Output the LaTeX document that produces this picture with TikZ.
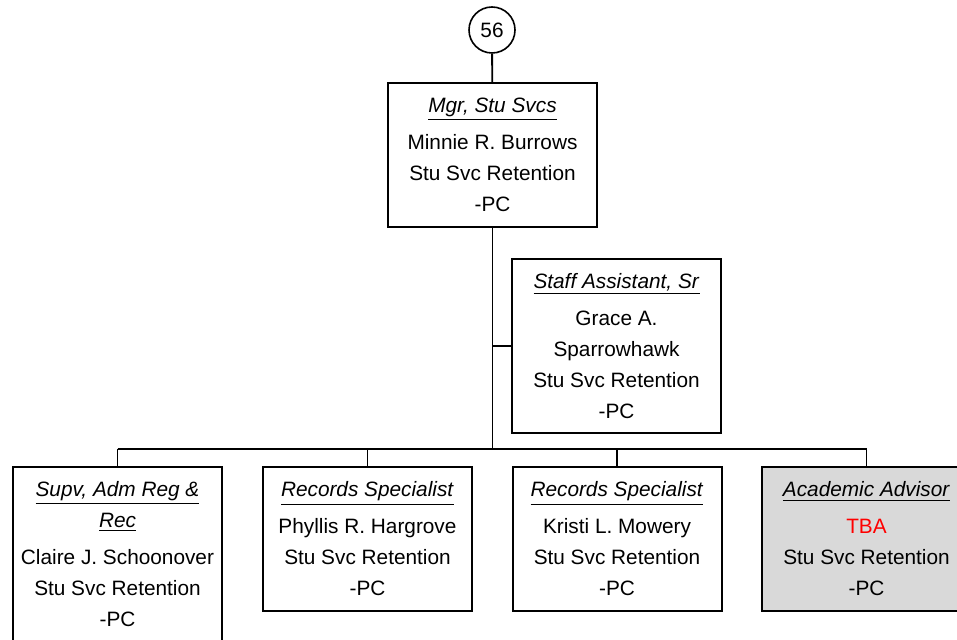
\documentclass[tikz,border=0pt]{standalone}
\usepackage{fontspec}
\setmainfont{Liberation Sans}
\usetikzlibrary{positioning}
\newcommand{\jobtitle}[1]{\underline{\textit{#1}}}

\begin{document}
\begin{tikzpicture}[x=0.5pt,y=-0.5pt,font=\fontsize{10.4}{15.5}\selectfont]
  \tikzstyle{post}=[draw,line width=1pt,align=center,minimum width=104.5pt,inner sep=0pt]
  \tikzstyle{link}=[line width=0.9pt]
  \clip (0,0) rectangle (957,640);
  \node[draw,circle,line width=0.8pt,minimum size=23pt,inner sep=0pt] (ref) at (492,30) {56};
  \node[post,minimum height=72pt] (mgr) at (492.5,155) {\jobtitle{Mgr, Stu Svcs}\\[3pt]Minnie R. Burrows\\Stu Svc Retention\\-PC};
  \node[post,minimum height=87pt] (staff) at (616.5,346) {\jobtitle{Staff Assistant, Sr}\\[3pt]Grace A.\\Sparrowhawk\\Stu Svc Retention\\-PC};
  \coordinate (bus) at (492.5,449);
  \node[post,minimum height=87pt] (supv) at (117.5,554) {\jobtitle{Supv, Adm Reg \&}\\\jobtitle{Rec}\\[3pt]Claire J. Schoonover\\Stu Svc Retention\\-PC};
  \node[post,minimum height=72pt] (rec1) at (367.5,539) {\jobtitle{Records Specialist}\\[3pt]Phyllis R. Hargrove\\Stu Svc Retention\\-PC};
  \node[post,minimum height=72pt] (rec2) at (617,539) {\jobtitle{Records Specialist}\\[3pt]Kristi L. Mowery\\Stu Svc Retention\\-PC};
  \node[post,minimum height=72pt,fill=gray!30] (adv) at (866.5,539) {\jobtitle{Academic Advisor}\\[3pt]\textcolor{red}{TBA}\\Stu Svc Retention\\-PC};
  \draw[link] (ref) -- (mgr);
  \draw[link] (mgr) -- (bus);
  \draw[link] (mgr.south |- staff.west) -- (staff.west);
  \draw[link] (bus -| supv.north) -- (bus -| adv.north);
  \foreach \n in {supv,rec1,rec2,adv}
    \draw[link] (bus -| \n.north) -- (\n.north);
\end{tikzpicture}
\end{document}
